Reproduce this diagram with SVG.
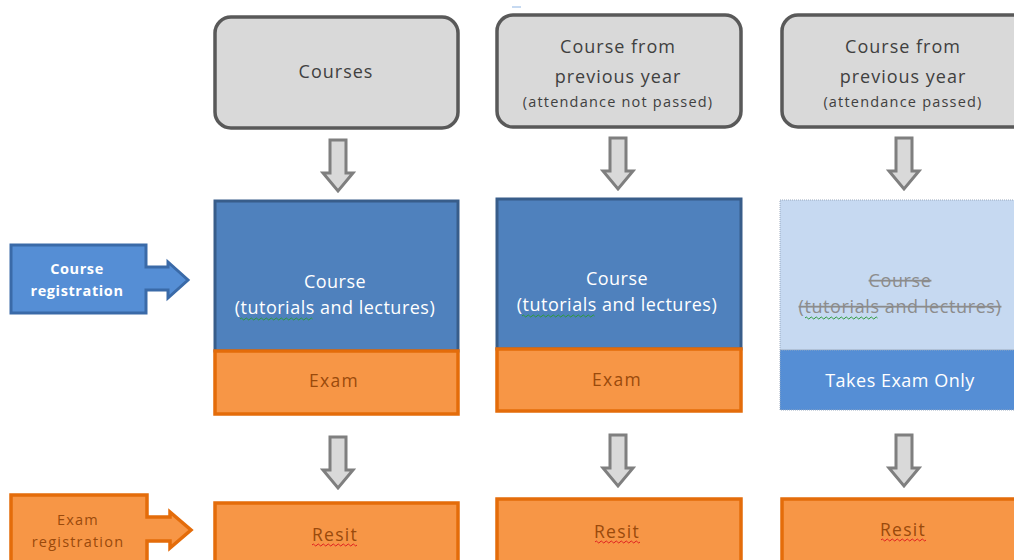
<svg xmlns="http://www.w3.org/2000/svg" width="1014" height="560" viewBox="0 0 1014 560">
<style>
.top{fill:#d9d9d9;stroke:#595959;stroke-width:3.5}
.blue{fill:#4f81bd;stroke:#385d8a;stroke-width:3}
.orange{fill:#f79646;stroke:#e46c0a;stroke-width:3.5}
.t{font-family:"Open Sans","Liberation Sans",sans-serif;text-anchor:middle}
.dk{fill:#404040;font-size:18px;letter-spacing:1px}
.sm{fill:#404040;font-size:14.5px;letter-spacing:1.2px}
.wh{fill:#ffffff;font-size:18px;letter-spacing:0.5px}
.br{fill:#9a4a0c;font-size:17.5px;letter-spacing:1.3px}
.gr{fill:#8c8c8c;font-size:18px;letter-spacing:0.6px;text-decoration:line-through}
.darr{fill:#d9d9d9;stroke:#7f7f7f;stroke-width:3}
.sq{fill:none;stroke-width:1}
</style>
<defs>
<path id="da" class="darr" d="M-8,0 H8 V33 H15 L0,51 L-15,33 H-8 Z"/>
<path id="sqlong" class="sq" d="M0,0 q1.25,-2 2.5,0 t2.5,0 t2.5,0 t2.5,0 t2.5,0 t2.5,0 t2.5,0 t2.5,0 t2.5,0 t2.5,0 t2.5,0 t2.5,0 t2.5,0 t2.5,0 t2.5,0 t2.5,0 t2.5,0 t2.5,0 t2.5,0 t2.5,0 t2.5,0 t2.5,0 t2.5,0 t2.5,0 t2.5,0 t2.5,0 t2.5,0 t2.5,0 t2.5,0"/>
<path id="sqshort" class="sq" d="M0,0 q1.25,-2 2.5,0 t2.5,0 t2.5,0 t2.5,0 t2.5,0 t2.5,0 t2.5,0 t2.5,0 t2.5,0 t2.5,0 t2.5,0 t2.5,0 t2.5,0 t2.5,0 t2.5,0 t2.5,0 t2.5,0 t2.5,0"/>
</defs>
<line x1="512" y1="7" x2="521" y2="7" stroke="#8eb4e3" stroke-width="1"/>
<g id="connectors">
<use href="#da" x="338" y="140"/>
<use href="#da" x="618" y="138"/>
<use href="#da" x="904" y="138"/>
<use href="#da" x="338" y="437"/>
<use href="#da" x="618" y="435"/>
<use href="#da" x="904" y="435"/>
</g>
<g id="courses">
<rect class="top" x="215" y="17" width="243" height="111" rx="16"/>
<text class="t dk" x="336" y="78">Courses</text>
</g>
<g id="prev-not-passed">
<rect class="top" x="497" y="15" width="244" height="112" rx="16"/>
<text class="t dk" x="618" y="53">Course from</text>
<text class="t dk" x="618" y="83">previous year</text>
<text class="t sm" x="618" y="107">(attendance not passed)</text>
</g>
<g id="prev-passed">
<rect class="top" x="782" y="15" width="250" height="112" rx="16"/>
<text class="t dk" x="903" y="53">Course from</text>
<text class="t dk" x="903" y="83">previous year</text>
<text class="t sm" x="903" y="107">(attendance passed)</text>
</g>
<g id="course-registration">
<path d="M11,245 H146 V267 H168 V262 L188,280 L168,298 V290 H146 V313 H11 Z" fill="#558ed5" stroke="#3a6aa8" stroke-width="3" stroke-linejoin="miter"/>
<text class="t" x="77" y="274" fill="#fff" font-size="14.5" font-weight="bold" letter-spacing="0.6">Course</text>
<text class="t" x="77" y="296" fill="#fff" font-size="14.5" font-weight="bold" letter-spacing="0.6">registration</text>
</g>
<g id="exam-registration">
<path d="M11,495 H147 V517 H170 V512 L191,530 L170,548 V541 H147 V565 H11 Z" fill="#f79646" stroke="#e46c0a" stroke-width="3.5"/>
<text class="t" x="78" y="525" fill="#9a4a0c" font-size="14.5" letter-spacing="1.2">Exam</text>
<text class="t" x="78" y="547" fill="#9a4a0c" font-size="14.5" letter-spacing="1.2">registration</text>
</g>
<g id="course1">
<rect class="blue" x="215" y="201" width="243" height="150"/>
<text class="t wh" x="335" y="288">Course</text>
<text class="t wh" x="335" y="314">(tutorials and lectures)</text>
<use href="#sqlong" x="240" y="319" stroke="#2d9b3a"/>
</g>
<g id="exam1">
<rect class="orange" x="215" y="351" width="243" height="63"/>
<text class="t br" x="334" y="387">Exam</text>
</g>
<g id="course2">
<rect class="blue" x="497" y="199" width="244" height="150"/>
<text class="t wh" x="617" y="285">Course</text>
<text class="t wh" x="617" y="311">(tutorials and lectures)</text>
<use href="#sqlong" x="522" y="316" stroke="#2d9b3a"/>
</g>
<g id="exam2">
<rect class="orange" x="497" y="349" width="244" height="62"/>
<text class="t br" x="617" y="386">Exam</text>
</g>
<g id="course3">
<rect x="780" y="200" width="240" height="150" fill="#c6d9f1" stroke="#9aa9bd" stroke-width="1" stroke-dasharray="1,1"/>
<text class="t gr" x="900" y="287">Course</text>
<text class="t gr" x="900" y="313">(tutorials and lectures)</text>
<use href="#sqlong" x="805" y="318" stroke="#2d9b3a"/>
</g>
<g id="exam3">
<rect x="780" y="350" width="240" height="60" fill="#558ed5" stroke="#9aa9bd" stroke-width="1" stroke-dasharray="1,1"/>
<text class="t wh" x="900" y="387" letter-spacing="0.6">Takes Exam Only</text>
</g>
<g id="resit1">
<rect class="orange" x="215" y="503" width="243" height="70"/>
<text class="t br" x="335" y="541" letter-spacing="1">Resit</text>
<use href="#sqshort" x="312" y="545" stroke="#e02020"/>
</g>
<g id="resit2">
<rect class="orange" x="497" y="499" width="244" height="70"/>
<text class="t br" x="617" y="538" letter-spacing="1">Resit</text>
<use href="#sqshort" x="595" y="542" stroke="#e02020"/>
</g>
<g id="resit3">
<rect class="orange" x="782" y="499" width="250" height="70"/>
<text class="t br" x="903" y="536" letter-spacing="1">Resit</text>
<use href="#sqshort" x="881" y="540" stroke="#e02020"/>
</g>
</svg>
